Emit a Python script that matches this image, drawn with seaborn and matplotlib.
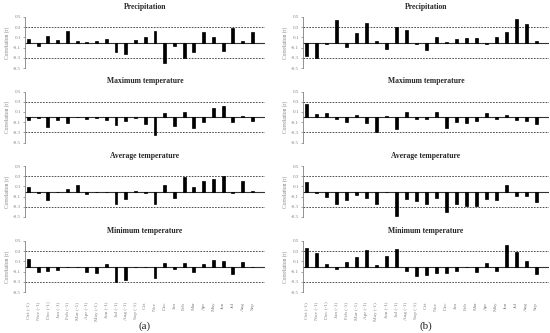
import matplotlib
matplotlib.use("Agg")
import matplotlib.pyplot as plt
import seaborn as sns
import pandas as pd

months = ["Oct (-1)", "Nov (-1)", "Dec (-1)", "Jan (-1)", "Feb (-1)", "Mar (-1)",
          "Apr (-1)", "May (-1)", "Jun (-1)", "Jul (-1)", "Aug (-1)", "Sep (-1)",
          "Oct", "Nov", "Dec", "Jan", "Feb", "Mar", "Apr", "May", "Jun", "Jul", "Aug", "Sep"]

titles = ["Precipitation", "Maximum temperature", "Average temperature", "Minimum temperature"]
yticks = [0.5, 0.3, 0.1, -0.1, -0.3, -0.5]

a_precip = [0.065, -0.065, 0.13, 0.05, 0.22, 0.03, 0.01, 0.03, 0.06, -0.18, -0.22, 0.04,
            0.10, 0.23, -0.40, -0.07, -0.30, -0.19, 0.20, 0.10, -0.16, 0.28, 0.03, 0.20]
a_tmax = [-0.05, -0.015, -0.20, -0.05, -0.12, 0.0, -0.03, -0.01, -0.05, -0.15, -0.08, -0.015,
          -0.13, -0.35, 0.08, -0.18, 0.09, -0.21, -0.09, 0.17, 0.21, -0.10, 0.025, -0.07]
a_tavg = [0.08, -0.02, -0.16, 0.0, 0.04, 0.13, -0.04, -0.005, 0.0, -0.24, -0.15, 0.01,
          -0.025, -0.24, 0.12, -0.12, 0.28, 0.085, 0.20, 0.25, 0.30, -0.02, 0.20, 0.01]
a_tmin = [0.14, -0.11, -0.095, -0.07, -0.005, 0.0, -0.11, -0.13, 0.045, -0.30, -0.26, -0.015,
          0.0, -0.22, 0.065, -0.04, 0.07, -0.10, 0.045, 0.12, 0.11, -0.14, 0.085, 0.0]

b_precip = [-0.26, -0.30, -0.02, 0.44, -0.09, 0.18, 0.38, 0.03, -0.13, 0.30, 0.25, -0.02,
            -0.15, 0.11, 0.01, 0.07, 0.09, 0.09, -0.03, 0.11, 0.21, 0.47, 0.36, 0.03]
b_tmax = [0.25, 0.05, 0.08, -0.045, -0.10, 0.04, -0.11, -0.30, 0.01, -0.23, 0.10, -0.04,
          -0.04, 0.09, -0.22, -0.09, -0.12, -0.085, 0.07, -0.03, 0.045, -0.065, -0.08, -0.14]
b_tavg = [0.19, -0.02, -0.10, -0.25, -0.16, -0.06, -0.12, -0.25, -0.005, -0.48, -0.155, -0.19,
          -0.25, -0.135, -0.41, -0.25, -0.29, -0.29, -0.15, -0.16, 0.125, -0.09, -0.09, -0.20]
b_tmin = [0.36, 0.27, 0.045, -0.04, 0.085, 0.19, 0.33, 0.035, 0.20, 0.35, -0.095, -0.195,
          -0.16, -0.12, -0.12, -0.09, 0.0, -0.115, 0.07, -0.09, 0.43, 0.29, 0.10, -0.14]

columns = {"(a)": [a_precip, a_tmax, a_tavg, a_tmin],
           "(b)": [b_precip, b_tmax, b_tavg, b_tmin]}

sns.set_theme(style="white")
plt.rcParams["font.family"] = ["Liberation Serif", "DejaVu Serif"]

W, H = 550, 333
fig = plt.figure(figsize=(W / 100, H / 100), dpi=100)

col_x = {"(a)": (25, 240), "(b)": (303, 246)}
row_tops = [17, 91.5, 166, 241]
row_h = 51
grey = "#808080"

for label, series in columns.items():
    x0, w = col_x[label]
    for r, (vals, title) in enumerate(zip(series, titles)):
        top = row_tops[r]
        ax = fig.add_axes([x0 / W, 1 - (top + row_h) / H, w / W, row_h / H])
        df = pd.DataFrame({"month": months, "r": vals})
        sns.barplot(data=df, x="month", y="r", order=months, color="black",
                    saturation=1, width=0.3, edgecolor="black", linewidth=0.5,
                    ax=ax, zorder=3)
        ax.set_xlim(-0.35, 24.3)
        ax.set_ylim(-0.5, 0.5)
        ax.axhline(0, color="#333333", lw=0.8, zorder=1)
        for yv in (0.3, -0.3):
            ax.axhline(yv, color="#333333", lw=0.6, ls=(0, (2, 1.5)), zorder=1)
        for s in ("top", "right", "bottom"):
            ax.spines[s].set_visible(False)
        ax.spines["left"].set_color(grey)
        ax.spines["left"].set_linewidth(0.6)
        ax.set_yticks(yticks)
        ax.set_yticklabels([f"{t:g}" for t in yticks])
        ax.tick_params(axis="y", left=True, length=1.5, width=0.5, color=grey,
                       labelsize=3.6, labelcolor=grey, pad=1.5)
        ax.set_ylabel("Correlation (r)", fontsize=4, color=grey, labelpad=2)
        ax.set_xlabel("")
        ax.set_title(title, fontsize=5.5, fontweight="bold", pad=6)
        if r == 3:
            ax.tick_params(axis="x", bottom=False, labelsize=3.8, labelcolor=grey,
                           rotation=90, pad=1)
        else:
            ax.tick_params(axis="x", bottom=False, labelbottom=False)
    fig.text((x0 + w / 2) / W, 1 - 326 / H, label, ha="center", va="center", fontsize=8)

fig.savefig("out.png", dpi=100)
